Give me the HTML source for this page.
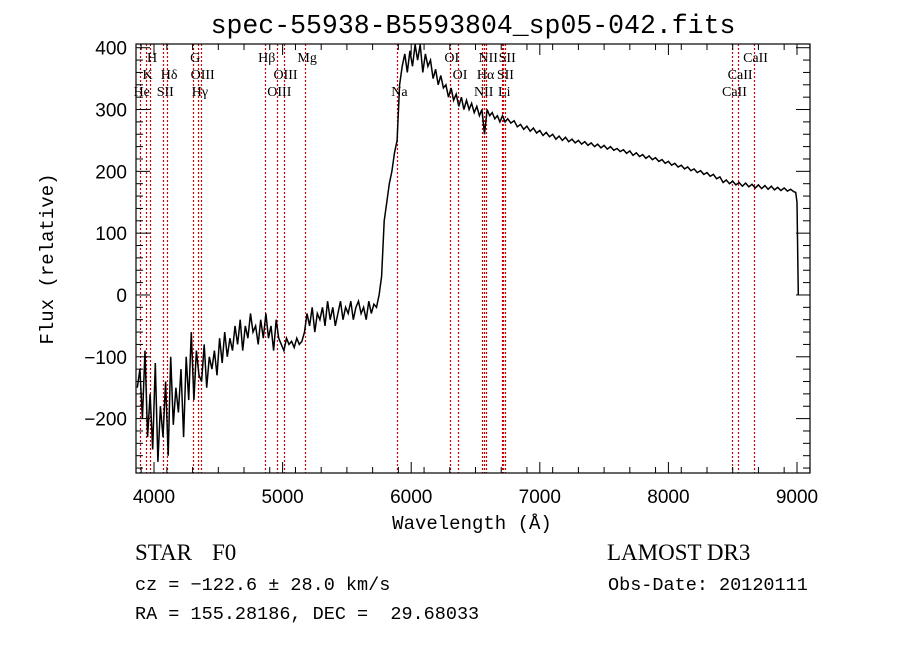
<!DOCTYPE html>
<html><head><meta charset="utf-8"><style>
body{margin:0;background:#fff;width:900px;height:649px;overflow:hidden}
svg{display:block}
</style></head><body>
<svg id="chart" width="900" height="649" xmlns="http://www.w3.org/2000/svg">
<rect width="900" height="649" fill="#fff"/>
<text x="473" y="33" text-anchor="middle" font-family="Liberation Mono, monospace" font-size="26.5">spec-55938-B5593804_sp05-042.fits</text>
<g id="lines"></g>
<g id="labels" font-family="Liberation Serif, serif" font-size="14"></g>
<path id="spec" fill="none" stroke="#000" stroke-width="1.5"/>
<rect x="136" y="44" width="674" height="429" fill="none" stroke="#000" stroke-width="1.2"/>
<g id="ticks" stroke="#000" stroke-width="1"></g>
<g id="ticklabels" font-family="Liberation Sans, sans-serif" font-size="19"></g>
<text x="472" y="529" text-anchor="middle" font-family="Liberation Mono, monospace" font-size="19">Wavelength (Å)</text>
<text transform="translate(53,259) rotate(-90)" text-anchor="middle" font-family="Liberation Mono, monospace" font-size="19">Flux (relative)</text>
<text x="135" y="560" font-family="Liberation Serif, serif" font-size="23">STAR</text>
<text x="212" y="560" font-family="Liberation Serif, serif" font-size="23">F0</text>
<text x="607" y="560" font-family="Liberation Serif, serif" font-size="23">LAMOST DR3</text>
<text x="135" y="590" font-family="Liberation Mono, monospace" font-size="18.5">cz = −122.6 ± 28.0 km/s</text>
<text x="608" y="590" font-family="Liberation Mono, monospace" font-size="18.5">Obs-Date: 20120111</text>
<text x="135" y="619" font-family="Liberation Mono, monospace" font-size="18.5" xml:space="preserve">RA = 155.28186, DEC =  29.68033</text>
</svg>
<script>
const seg1Start=3870, seg1Step=20;
const seg1Flux=[-150,-120,-200,-90,-230,-160,-250,-110,-270,-180,-230,-140,-260,-100,-210,-150,-190,-120,-230,-100,-170,-60,-170,-90,-130,-140,-80,-150,-100,-120,-90,-130,-70,-110,-60,-100,-70,-90,-50,-80,-40,-90,-50,-70,-30,-60,-50,-80,-40,-70,-30,-70,-50,-90,-40,-70,-80,-90,-70,-80,-75,-85,-70,-80,-75,-60,-30,-50,-20,-60,-30,-40,-20,-50,-10,-40,-20,-50,-30,-10,-40,-20,-30,-10,-40,-20,-10,-30,-20,-40,-10,-30,-15,-20,0];
const seg2Start=5770, seg2Step=20;
const seg2Flux=[30,120,150,180,200,230,250,340,370,390,360,395,370,405,380,405,360,390,370,380,350,365,340,355,335,340,320,335,315,325,305,320,300,315,300,310,295,305,290,300,260,300,290,295,285,290,280,290,280];
const seg3Start=6750, seg3Step=25;
const seg3Flux=[285,278,282,272,276,268,273,265,270,262,266,258,263,256,260,252,257,250,255,248,252,246,250,244,248,242,246,240,244,238,242,236,240,234,237,232,235,229,233,226,230,224,227,221,225,219,222,216,219,213,216,210,213,207,210,204,207,201,204,198,201,195,198,192,195,188,191,182,186,180,184,178,182,176,181,175,179,173,178,172,177,171,176,170,174,169,173,168,171,167];
const tailWl=[8990,9000,9010];
const tailFlux=[166,150,0];
const lineWl=[3889,3934,3969,4072,4102,4305,4341,4363,4861,4959,5007,5175,5893,6300,6364,6548,6563,6583,6708,6717,6731,8498,8542,8662];
const labelText=["He","K","H","SII","Hδ","G","Hγ","OIII","Hβ","OIII","OIII","Mg","Na","OI","OI","NII","Hα","NII","Li","SII","SII","CaII","CaII","CaII"];
const labelRow=[2,1,0,2,1,0,2,1,0,2,1,0,2,0,1,2,1,0,2,1,0,2,1,0];
const xTicks=[4000,5000,6000,7000,8000,9000];
const yTicks=[-200,-100,0,100,200,300,400];
const X0=3860,X1=9101,Y0=-288,Y1=406;
const px=w=>136+(w-X0)/(X1-X0)*674;
const py=f=>473-(f-Y0)/(Y1-Y0)*429;
const NS='http://www.w3.org/2000/svg';
function mk(tag,parent){const e=document.createElementNS(NS,tag);document.getElementById(parent).appendChild(e);return e;}
let pts=[];
seg1Flux.forEach((f,i)=>pts.push([seg1Start+i*seg1Step,f]));
seg2Flux.forEach((f,i)=>pts.push([seg2Start+i*seg2Step,f]));
seg3Flux.forEach((f,i)=>pts.push([seg3Start+i*seg3Step,f]));
tailWl.forEach((w,i)=>pts.push([w,tailFlux[i]]));
document.getElementById('spec').setAttribute('d',pts.map((p,i)=>(i?'L':'M')+px(p[0]).toFixed(1)+','+py(p[1]).toFixed(1)).join(''));
lineWl.forEach((w,i)=>{
 const l=mk('line','lines');
 
 
 const x=Math.round(px(w))+0.5;
 l.setAttribute('x1',x);l.setAttribute('x2',x);l.setAttribute('y1',44);l.setAttribute('y2',473);
 l.setAttribute('stroke','#d00000');l.setAttribute('stroke-dasharray','2,2');l.setAttribute('stroke-width','1.2');
 const t=mk('text','labels');
 
 
 t.setAttribute('x',px(w)+2);t.setAttribute('y',62+labelRow[i]*17);t.setAttribute('text-anchor','middle');
 t.textContent=labelText[i];
});
xTicks.forEach(v=>{
 const l=mk('line','ticks');
 
 
 l.setAttribute('x1',px(v));l.setAttribute('x2',px(v));l.setAttribute('y1',473);l.setAttribute('y2',462);
 const l2=mk('line','ticks');
 
 
 l2.setAttribute('x1',px(v));l2.setAttribute('x2',px(v));l2.setAttribute('y1',44);l2.setAttribute('y2',55);
 const t=mk('text','ticklabels');
 
 
 t.setAttribute('x',px(v));t.setAttribute('y',503);t.setAttribute('text-anchor','middle');t.textContent=v;
});
for(let v=3900;v<=9100;v+=200){if(v%1000===0)continue;
 const l=mk('line','ticks');
 
 
 l.setAttribute('x1',px(v));l.setAttribute('x2',px(v));l.setAttribute('y1',473);l.setAttribute('y2',467);
 const l2=mk('line','ticks');
 
 
 l2.setAttribute('x1',px(v));l2.setAttribute('x2',px(v));l2.setAttribute('y1',44);l2.setAttribute('y2',50);}
yTicks.forEach(v=>{
 const l=mk('line','ticks');
 
 
 l.setAttribute('x1',136);l.setAttribute('x2',150);l.setAttribute('y1',py(v));l.setAttribute('y2',py(v));
 const l2=mk('line','ticks');
 
 
 l2.setAttribute('x1',796);l2.setAttribute('x2',810);l2.setAttribute('y1',py(v));l2.setAttribute('y2',py(v));
 const t=mk('text','ticklabels');
 
 
 t.setAttribute('x',127);t.setAttribute('y',py(v)+7);t.setAttribute('text-anchor','end');t.textContent=v<0?'−'+(-v):v;
});
for(let v=-280;v<=400;v+=20){if(v%100===0)continue;
 const l=mk('line','ticks');
 
 
 l.setAttribute('x1',136);l.setAttribute('x2',143);l.setAttribute('y1',py(v));l.setAttribute('y2',py(v));
 const l2=mk('line','ticks');
 
 
 l2.setAttribute('x1',803);l2.setAttribute('x2',810);l2.setAttribute('y1',py(v));l2.setAttribute('y2',py(v));}
</script>
</body></html>
